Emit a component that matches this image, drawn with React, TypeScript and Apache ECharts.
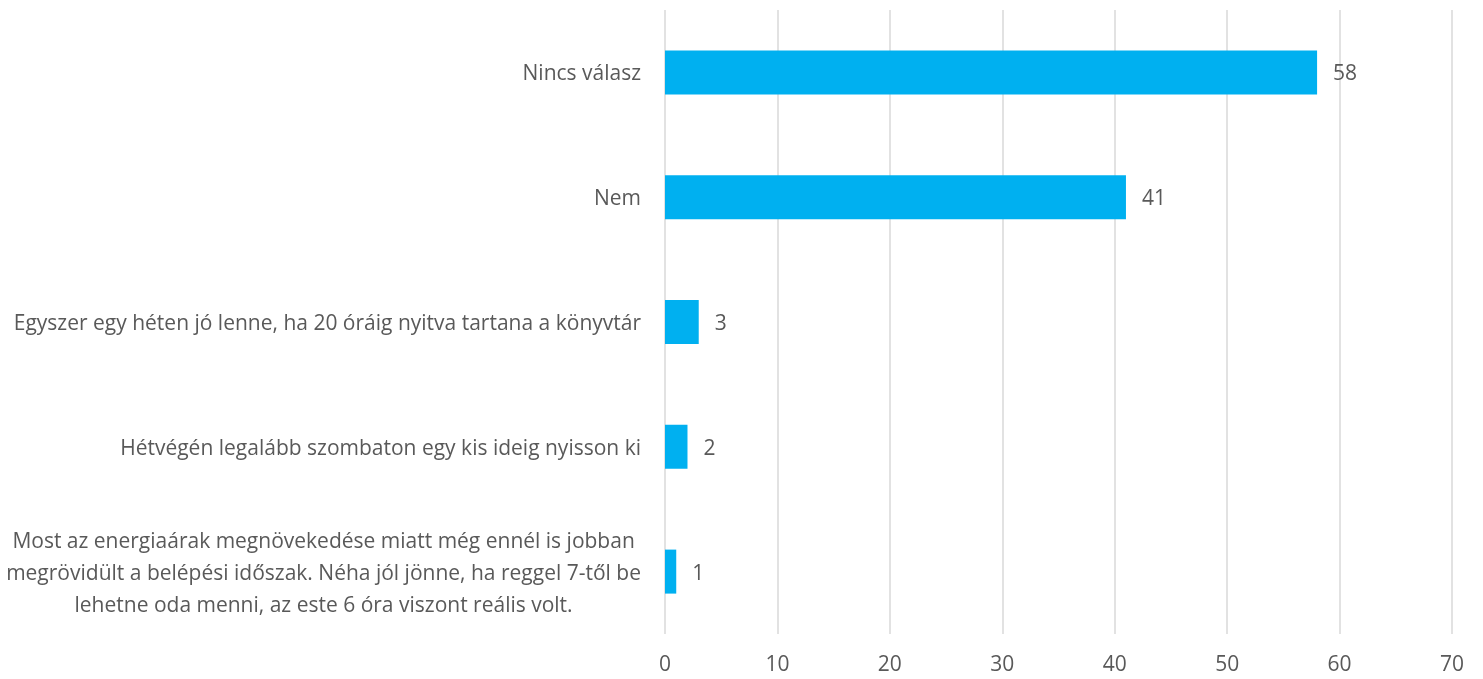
import React, { useEffect, useRef } from "react";
import * as echarts from "echarts";

const categories = [
  "Most az energiaárak megnövekedése miatt még ennél is jobban\nmegrövidült a belépési időszak. Néha jól jönne, ha reggel 7-től be\nlehetne oda menni, az este 6 óra viszont reális volt.",
  "Hétvégén legalább szombaton egy kis ideig nyisson ki",
  "Egyszer egy héten jó lenne, ha 20 óráig nyitva tartana a könyvtár",
  "Nem",
  "Nincs válasz",
];
const values = [1, 2, 3, 41, 58];
const xTicks = { min: 0, max: 70, interval: 10 };

const FONT = "'Open Sans', sans-serif";
const TEXT = "#595959";
const FS = 21;

export default function App() {
  const ref = useRef<HTMLDivElement>(null);
  useEffect(() => {
    const chart = echarts.init(ref.current!, undefined, { renderer: "svg" });
    chart.setOption({
      animation: false,
      grid: { left: 665, right: 31, top: 10, bottom: 45, containLabel: false },
      xAxis: {
        type: "value",
        min: xTicks.min,
        max: xTicks.max,
        interval: xTicks.interval,
        axisLine: { show: false },
        axisTick: { show: false },
        splitLine: { lineStyle: { color: "#D9D9D9", width: 1.5 } },
        axisLabel: { color: TEXT, fontSize: FS, fontFamily: FONT, margin: 18 },
      },
      yAxis: {
        type: "category",
        data: categories,
        axisLine: { show: false },
        axisTick: { show: false },
        axisLabel: {
          color: TEXT,
          fontSize: FS,
          fontFamily: FONT,
          margin: 24,
          align: "right",
          lineHeight: 32,
          formatter: (v: string) => "{c|" + v.split("\n").join("}\n{c|") + "}",
          rich: { c: { align: "center", color: TEXT, fontSize: FS, fontFamily: FONT, lineHeight: 32 } },
        },
      },
      series: [
        {
          type: "bar",
          data: values,
          barWidth: 44,
          itemStyle: { color: "#00B0F0" },
          label: {
            show: true,
            position: "right",
            distance: 16,
            color: TEXT,
            fontSize: FS,
            fontFamily: FONT,
          },
        },
      ],
    });
    return () => chart.dispose();
  }, []);
  return (
    <div
      ref={ref}
      style={{ position: "fixed", left: 0, top: 0, width: 1483, height: 679 }}
    />
  );
}
